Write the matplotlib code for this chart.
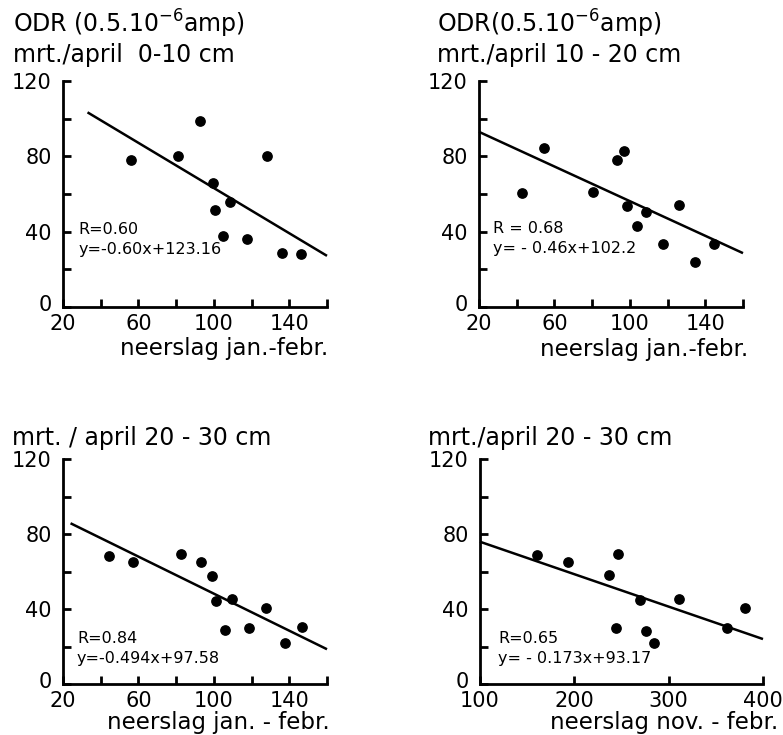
import matplotlib
matplotlib.use('Agg')
import matplotlib.pyplot as plt
import matplotlib.transforms as mtransforms
import numpy as np

# ---- data ----
# panel 1: ODR 0-10 cm vs neerslag jan.-febr.
x1 = [56, 81, 92.7, 128, 99.4, 108.6, 100.6, 105, 117.5, 136, 146.4]
y1 = [78, 80, 99, 80, 65.8, 55.8, 51.3, 37.7, 35.9, 28.7, 28]
# panel 2: 10-20 cm
x2 = [43, 54.6, 80.6, 93.4, 97.1, 98.7, 108.6, 104, 126, 117.5, 134.3, 144.4]
y2 = [60.3, 84.5, 61.2, 78, 82.9, 53.8, 50.4, 43.2, 54.1, 33.5, 23.8, 33.3]
# panel 3: 20-30 cm vs jan.-febr.
x3 = [44.3, 57.2, 82.4, 93, 99.2, 101, 109.8, 106, 118.4, 127.7, 137.8, 147]
y3 = [68.3, 65, 69.2, 65, 57.7, 44.5, 45.2, 28.8, 29.7, 40.7, 21.7, 30.6]
# panel 4: 20-30 cm vs nov.-febr.
x4 = [160, 193.5, 236.6, 246.8, 244, 269.4, 275.8, 284.6, 311, 362, 381]
y4 = [68.9, 65, 58.2, 69.4, 29.7, 44.8, 28.3, 21.7, 45.2, 30.1, 40.7]

slopes = [-0.60, -0.46, -0.494, -0.173]
intercepts = [123.16, 102.2, 97.58, 93.17]
fit_ranges = [(33, 160), (20, 160), (24, 160), (100, 400)]
r_labels = ['R=0.60', 'R = 0.68', 'R=0.84', 'R=0.65']
eq_labels = ['y=-0.60x+123.16', 'y= - 0.46x+102.2', 'y=-0.494x+97.58', 'y= - 0.173x+93.17']
titles = [['ODR (0.5.10$^{-6}$amp)', 'mrt./april  0-10 cm'],
          ['ODR(0.5.10$^{-6}$amp)', 'mrt./april 10 - 20 cm'],
          ['mrt. / april 20 - 30 cm'],
          ['mrt./april 20 - 30 cm']]
xlabels = ['neerslag jan.-febr.', 'neerslag jan.-febr.',
           'neerslag jan. - febr.', 'neerslag nov. - febr.']

jan_ticks = [20, 40, 60, 80, 100, 120, 140, 160]
jan_ticklabels = ['20', '', '60', '', '100', '', '140', '']
nov_ticks = [100, 200, 300, 400]
nov_ticklabels = ['100', '200', '300', '400']
y_ticks = [0, 20, 40, 60, 80, 100, 120]
y_ticklabels = ['0', '', '40', '', '80', '', '120']

plt.rcParams['font.family'] = ['DejaVu Sans']

fig = plt.figure(figsize=(7.83, 7.35), dpi=100)
W, H = 783, 735

# axes boxes in pixels: left, top(y=120), right, bottom(y=0)
boxes = [(63, 81, 327, 307), (479, 81, 743, 307),
         (63, 459, 327, 684), (480, 459, 763, 684)]
title_pos = [(13, [33, 62]), (437, [33, 62]), (12, [445]), (428, [445])]
xlabel_pos = [(328, 355), (748, 356), (330, 729), (778, 729)]
text_pos = [(28, 39, 28.3), (27.4, 39.2, 28.6), (27.4, 21.7, 11), (119.4, 22, 11.4)]

xs = [x1, x2, x3, x4]
ys = [y1, y2, y3, y4]

for i in range(4):
    l, t, r, b = boxes[i]
    ax = fig.add_axes([l / W, 1 - b / H, (r - l) / W, (b - t) / H])
    ax.scatter(xs[i], ys[i], s=45, color='black', zorder=3, clip_on=False)
    xf = np.array(fit_ranges[i], dtype=float)
    ax.plot(xf, slopes[i] * xf + intercepts[i], color='black', lw=1.8,
            solid_capstyle='butt', clip_on=False)

    if i < 3:
        ax.set_xlim(20, 160)
        ax.set_xticks(jan_ticks)
        ax.set_xticklabels(jan_ticklabels)
    else:
        ax.set_xlim(100, 400)
        ax.set_xticks(nov_ticks)
        ax.set_xticklabels(nov_ticklabels)
    ax.set_ylim(0, 120)
    ax.set_yticks(y_ticks)
    ax.set_yticklabels(y_ticklabels)

    for s in ['top', 'right']:
        ax.spines[s].set_visible(False)
    for s in ['left', 'bottom']:
        ax.spines[s].set_linewidth(2)
    ax.tick_params(direction='in', length=6, width=2, labelsize=15)
    ax.tick_params(axis='x', pad=5)
    ax.tick_params(axis='y', pad=8)
    ax.patch.set_alpha(0)

    # the "0" sits a little above the corner, as in the original
    zero = ax.get_yticklabels()[0]
    zero.set_transform(zero.get_transform() +
                       mtransforms.ScaledTranslation(0, 3 / 72, fig.dpi_scale_trans))

    tx, ry, ey = text_pos[i]
    ax.text(tx, ry, r_labels[i], fontsize=11.5, va='baseline')
    ax.text(tx, ey, eq_labels[i], fontsize=11.5, va='baseline')

    px, bl = title_pos[i]
    for line, yb in zip(titles[i], bl):
        fig.text(px / W, 1 - yb / H, line, fontsize=17, va='baseline', ha='left')
    xr, xb = xlabel_pos[i]
    fig.text(xr / W, 1 - xb / H, xlabels[i], fontsize=16.5, va='baseline', ha='right')

fig.savefig('out.png', dpi=100)
